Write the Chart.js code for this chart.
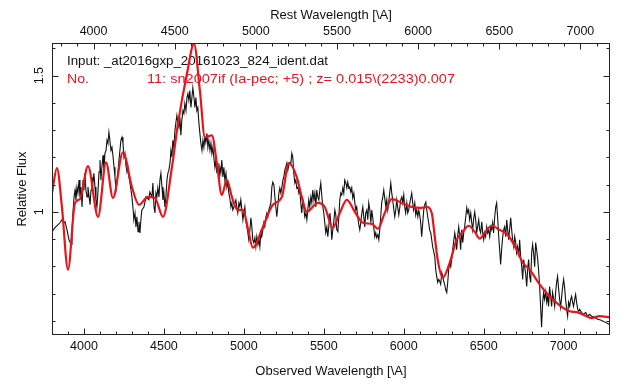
<!DOCTYPE html>
<html>
<head>
<meta charset="UTF-8">
<title>sn2007if vs at2016gxp</title>
<script src="https://cdn.jsdelivr.net/npm/chart.js"></script>
<style>
  html, body { margin: 0; padding: 0; background: #fff; }
  canvas { display: block; }
</style>
</head>
<body>
<canvas id="grafico" width="640" height="387"></canvas>
<script>
// espectro observado (comprimento de onda observado, fluxo relativo)
const obsWave = [
  3800,3819,3838,3850,3862,3875,3881,3894,3906,3919,
  3925,3931,3938,3944,3950,3956,3962,3969,3975,3981,
  3988,3994,4000,4006,4012,4019,4025,4038,4044,4050,
  4056,4062,4069,4075,4081,4088,4094,4100,4106,4112,
  4119,4125,4131,4138,4144,4150,4156,4162,4169,4175,
  4181,4188,4194,4200,4206,4212,4219,4225,4231,4238,
  4244,4250,4256,4262,4269,4275,4281,4288,4294,4300,
  4306,4312,4319,4325,4331,4338,4344,4350,4356,4362,
  4375,4388,4394,4406,4412,4425,4431,4438,4444,4450,
  4456,4462,4469,4475,4481,4488,4494,4500,4506,4512,
  4519,4525,4531,4538,4544,4550,4556,4562,4569,4575,
  4581,4588,4594,4600,4606,4612,4619,4625,4631,4638,
  4644,4650,4656,4662,4669,4675,4681,4688,4694,4700,
  4706,4712,4719,4725,4731,4738,4744,4750,4756,4762,
  4769,4775,4781,4788,4794,4800,4806,4812,4819,4825,
  4831,4838,4844,4850,4856,4862,4869,4875,4881,4888,
  4894,4900,4906,4912,4919,4925,4931,4938,4944,4950,
  4956,4962,4969,4975,4981,4988,4994,5000,5006,5012,
  5019,5025,5031,5038,5044,5050,5056,5062,5069,5075,
  5081,5088,5094,5100,5106,5112,5119,5125,5131,5138,
  5144,5150,5156,5162,5169,5175,5181,5188,5194,5200,
  5206,5212,5219,5225,5231,5238,5244,5250,5256,5262,
  5269,5275,5281,5288,5294,5300,5306,5312,5319,5325,
  5331,5338,5344,5350,5356,5362,5369,5375,5381,5388,
  5394,5400,5406,5412,5419,5425,5431,5438,5444,5450,
  5456,5462,5469,5475,5481,5488,5494,5500,5506,5512,
  5519,5525,5531,5538,5544,5550,5556,5562,5569,5575,
  5581,5588,5594,5600,5606,5612,5619,5625,5631,5638,
  5644,5650,5656,5662,5669,5675,5681,5688,5694,5700,
  5706,5712,5719,5725,5731,5738,5744,5750,5756,5762,
  5769,5775,5781,5788,5794,5800,5806,5812,5819,5825,
  5831,5838,5844,5850,5856,5862,5869,5875,5881,5888,
  5894,5900,5906,5912,5919,5925,5931,5938,5944,5950,
  5956,5962,5969,5975,5981,5988,5994,6000,6006,6012,
  6019,6025,6031,6038,6044,6050,6056,6062,6069,6075,
  6081,6088,6094,6100,6106,6112,6119,6125,6131,6138,
  6144,6150,6156,6162,6169,6181,6194,6200,6206,6212,
  6219,6225,6231,6238,6244,6250,6256,6262,6269,6275,
  6281,6288,6294,6300,6306,6312,6319,6325,6331,6338,
  6344,6350,6356,6362,6369,6375,6381,6388,6394,6400,
  6406,6412,6419,6425,6431,6438,6444,6450,6456,6462,
  6469,6475,6481,6488,6494,6500,6506,6512,6519,6525,
  6531,6538,6544,6550,6556,6562,6569,6575,6581,6588,
  6594,6600,6606,6612,6619,6625,6631,6638,6644,6650,
  6656,6662,6669,6675,6681,6688,6694,6700,6706,6712,
  6719,6725,6731,6738,6744,6750,6756,6762,6769,6775,
  6781,6788,6794,6800,6806,6812,6819,6825,6831,6838,
  6844,6850,6856,6862,6869,6875,6881,6888,6894,6900,
  6906,6912,6919,6925,6931,6938,6944,6950,6956,6962,
  6969,6975,6981,6988,6994,7000,7006,7012,7019,7025,
  7031,7038,7044,7050,7056,7062,7069,7075,7081,7088,
  7094,7100,7112,7125,7138,7150,7162,7175,7194,7212,
  7231,7250,7269,7288
];
const obsFlux = [
  0.927,0.942,0.953,0.960,0.971,0.960,0.964,0.934,0.898,0.880,
  0.923,0.996,1.055,1.080,1.044,1.091,1.069,1.117,1.055,1.091,
  1.018,1.117,1.080,1.142,1.080,1.055,1.091,1.026,1.080,1.128,
  1.106,1.142,1.091,1.044,1.018,1.080,1.146,1.190,1.117,1.164,
  1.208,1.153,1.215,1.226,1.263,1.252,1.292,1.263,1.226,1.237,
  1.208,1.164,1.128,1.080,1.106,1.142,1.190,1.226,1.263,1.274,
  1.252,1.201,1.215,1.172,1.146,1.164,1.128,1.106,1.080,1.055,
  1.018,0.971,0.996,0.945,0.982,0.927,0.964,0.923,0.971,1.007,
  1.018,1.055,1.055,1.044,1.073,1.055,1.106,1.018,0.996,1.069,
  1.055,1.088,1.055,1.117,1.142,1.091,1.044,1.069,1.018,1.051,
  1.117,1.142,1.153,1.179,1.226,1.201,1.263,1.237,1.299,1.328,
  1.354,1.325,1.310,1.347,1.281,1.336,1.372,1.361,1.398,1.372,
  1.420,1.434,1.409,1.445,1.383,1.420,1.456,1.420,1.383,1.420,
  1.372,1.383,1.325,1.288,1.252,1.226,1.263,1.237,1.274,1.255,
  1.288,1.237,1.263,1.226,1.252,1.215,1.237,1.201,1.164,1.190,
  1.142,1.179,1.117,1.164,1.142,1.190,1.128,1.164,1.117,1.142,
  1.091,1.109,1.069,1.051,1.018,1.033,1.007,1.018,1.033,1.044,
  1.018,0.996,1.033,1.020,1.044,1.007,0.971,0.996,1.018,0.971,
  0.945,0.923,0.898,0.934,0.978,0.945,0.898,0.887,0.905,0.872,
  0.909,0.880,0.898,0.872,0.923,0.909,0.934,0.960,0.945,0.982,
  0.996,0.982,1.007,1.018,1.033,1.091,1.109,1.099,1.055,1.018,
  0.982,1.018,1.069,1.088,1.069,1.091,1.117,1.128,1.153,1.164,
  1.179,1.153,1.172,1.182,1.179,1.215,1.201,1.142,1.106,1.117,
  1.088,1.091,1.069,1.080,1.033,0.996,1.044,1.018,0.982,0.996,
  0.971,1.007,1.044,1.018,1.055,1.033,1.080,1.044,1.069,1.018,
  1.080,1.055,1.044,1.080,1.106,1.055,1.018,0.996,0.960,0.923,
  0.945,0.909,0.945,0.996,0.960,0.898,0.934,0.960,1.007,0.989,
  0.934,0.927,0.982,1.044,1.069,1.062,1.088,1.069,1.117,1.106,
  1.088,1.109,1.088,1.091,1.073,1.088,1.051,1.069,1.033,1.007,
  1.018,0.982,0.953,0.934,0.960,0.996,1.018,0.982,0.945,0.996,
  1.007,0.971,1.033,1.007,0.960,1.007,0.978,0.945,0.909,0.923,
  0.905,0.916,0.898,0.934,0.982,1.033,1.055,1.080,1.051,1.018,
  1.044,1.007,1.033,1.069,1.106,1.069,1.044,1.007,0.982,1.007,
  1.044,1.018,0.989,1.015,1.044,1.055,1.033,1.062,1.018,0.996,
  1.033,0.996,1.007,1.033,1.051,1.069,1.033,1.007,1.033,0.989,
  1.007,0.982,1.007,0.989,0.960,0.909,0.960,1.007,1.026,1.036,
  1.007,0.982,0.960,0.934,0.923,0.872,0.836,0.788,0.763,0.741,
  0.752,0.745,0.734,0.777,0.763,0.745,0.734,0.715,0.704,0.741,
  0.788,0.814,0.799,0.825,0.861,0.891,0.923,0.898,0.861,0.916,
  0.945,0.909,0.861,0.934,0.887,0.923,0.945,0.982,1.015,0.996,
  1.007,0.971,0.996,0.960,0.934,0.978,1.000,0.971,0.923,0.945,
  0.971,0.934,0.923,0.964,0.923,0.898,0.923,0.909,0.945,0.923,
  0.934,0.909,0.945,0.934,0.960,0.923,0.982,1.018,1.033,0.971,
  0.909,0.861,0.807,0.861,0.909,0.934,0.945,0.909,0.971,0.934,
  0.898,0.934,0.978,0.934,0.898,0.872,0.909,0.887,0.850,0.872,
  0.836,0.898,0.836,0.799,0.752,0.825,0.799,0.777,0.726,0.788,
  0.825,0.763,0.741,0.850,0.880,0.850,0.799,0.887,0.861,0.825,
  0.781,0.726,0.653,0.577,0.668,0.704,0.679,0.708,0.668,0.690,
  0.653,0.726,0.690,0.653,0.704,0.679,0.653,0.704,0.741,0.763,
  0.715,0.679,0.650,0.690,0.726,0.752,0.723,0.679,0.642,0.617,
  0.668,0.653,0.679,0.690,0.668,0.653,0.679,0.697,0.668,0.642,
  0.635,0.642,0.631,0.624,0.631,0.617,0.624,0.617,0.613,0.606,
  0.603,0.598,0.592,0.587
];

// modelo sn2007if (Ia-pec; +5)
const tplWave = [
  3800,3831,3862,3900,3944,3975,4025,4088,4138,4181,
  4244,4300,4344,4400,4444,4494,4550,4588,4644,4688,
  4725,4756,4800,4831,4862,4894,4925,4962,4994,5025,
  5056,5119,5181,5238,5281,5331,5362,5394,5462,5506,
  5556,5600,5644,5694,5744,5800,5838,5881,5925,5988,
  6050,6112,6144,6175,6194,6212,6244,6288,6331,6369,
  6406,6444,6475,6506,6550,6600,6650,6706,6744,6788,
  6850,6912,6975,7038,7088,7144,7175,7225,7288
];
const tplFlux = [
  1.069,1.161,1.018,0.788,1.033,1.047,1.168,0.982,1.182,1.051,
  1.219,1.091,1.026,1.055,1.051,0.982,1.164,1.325,1.507,1.617,
  1.445,1.274,1.281,1.179,1.062,1.117,1.055,1.007,1.007,0.940,
  0.869,0.945,1.026,1.055,1.179,1.128,1.055,1.000,1.033,1.018,
  0.942,0.996,1.044,1.000,0.960,0.956,0.938,0.996,1.047,1.033,
  1.018,1.015,1.018,0.996,0.909,0.825,0.759,0.814,0.898,0.927,
  0.949,0.927,0.902,0.923,0.949,0.934,0.916,0.861,0.814,0.788,
  0.734,0.690,0.657,0.635,0.631,0.617,0.610,0.617,0.613
];

const obsTicks = [4000, 4500, 5000, 5500, 6000, 6500, 7000];
const restTicks = [4000, 4500, 5000, 5500, 6000, 6500, 7000];
const fluxTicks = [1, 1.5];
const fluxLabels = ['1', '1.5'];
const redshift = 0.015;
const xMin = 3800, xMax = 7290;
const yMin = 0.548, yMax = 1.62;

const fonte = '"Liberation Sans", Arial, sans-serif';
const vermelho = '#e8141c';

function pares(ws, fs) {
    const n = Math.min(ws.length, fs.length);
    const out = [];
    for (let i = 0; i < n; i++) out.push({ x: ws[i], y: fs[i] });
    return out;
}

// o texto do IDL é mais largo que a Liberation: estica na horizontal
function textoLargo(ctx, txt, x, y, largura) {
    const w = ctx.measureText(txt).width;
    ctx.save();
    ctx.translate(x, y);
    ctx.scale(largura / w, 1);
    ctx.fillText(txt, 0, 0);
    ctx.restore();
}

// moldura, ticks para dentro e textos estilo IDL
const eixos = {
    id: 'eixos',
    beforeDatasetsDraw(chart) {
        const ctx = chart.ctx;
        ctx.save();
        ctx.font = '12px ' + fonte;
        ctx.textBaseline = 'middle';
        ctx.textAlign = 'left';
        ctx.fillStyle = '#111';
        textoLargo(ctx, 'Input: _at2016gxp_20161023_824_ident.dat', 67, 62, 261);
        ctx.fillStyle = vermelho;
        textoLargo(ctx, 'No.', 67, 80, 22);
        textoLargo(ctx, '11: sn2007if (Ia-pec; +5) ; z= 0.015\\(2233)0.007', 147, 80, 308);
        ctx.restore();
    },
    afterDraw(chart) {
        const ctx = chart.ctx;
        const a = chart.chartArea;
        const x = chart.scales.x, xt = chart.scales.xTop, y = chart.scales.y;
        const L = Math.round(a.left) + 0.5, R = Math.round(a.right) - 0.5;
        const T = Math.round(a.top) + 0.5, B = Math.round(a.bottom) - 0.5;

        ctx.save();
        ctx.strokeStyle = '#222';
        ctx.lineWidth = 1;
        ctx.strokeRect(L, T, R - L, B - T);

        ctx.beginPath();
        for (let v = 3800; v <= xMax; v += 100) {
            const px = Math.round(x.getPixelForValue(v)) + 0.5;
            const len = v % 500 === 0 ? 6 : 3;
            ctx.moveTo(px, B); ctx.lineTo(px, B - len);
        }
        for (let v = 3800; v <= xMax / (1 + redshift); v += 100) {
            const px = Math.round(xt.getPixelForValue(v)) + 0.5;
            const len = v % 500 === 0 ? 6 : 3;
            ctx.moveTo(px, T); ctx.lineTo(px, T + len);
        }
        for (let k = 6; k <= 16; k++) {
            const py = Math.round(y.getPixelForValue(k / 10)) + 0.5;
            const len = (k === 10 || k === 15) ? 6 : 3;
            ctx.moveTo(L, py); ctx.lineTo(L + len, py);
            ctx.moveTo(R, py); ctx.lineTo(R - len, py);
        }
        ctx.stroke();

        ctx.fillStyle = '#111';
        ctx.font = '12.5px ' + fonte;
        ctx.textAlign = 'center';
        ctx.textBaseline = 'middle';
        obsTicks.forEach(v => ctx.fillText(String(v), x.getPixelForValue(v), 347));
        restTicks.forEach(v => ctx.fillText(String(v), xt.getPixelForValue(v), 32));
        fluxTicks.forEach((v, i) => {
            ctx.save();
            ctx.translate(40, y.getPixelForValue(v));
            ctx.rotate(-Math.PI / 2);
            ctx.fillText(fluxLabels[i], 0, 0);
            ctx.restore();
        });

        const cx = (a.left + a.right) / 2;
        ctx.font = '13px ' + fonte;
        ctx.fillText('Rest Wavelength [\\A]', cx, 15);
        ctx.fillText('Observed Wavelength [\\A]', cx, 371);
        ctx.save();
        ctx.translate(22, (a.top + a.bottom) / 2);
        ctx.rotate(-Math.PI / 2);
        ctx.fillText('Relative Flux', 0, 0);
        ctx.restore();
        ctx.restore();
    }
};

new Chart(document.getElementById('grafico'), {
    type: 'line',
    data: {
        datasets: [
            {
                label: 'sn2007if',
                data: pares(tplWave, tplFlux),
                borderColor: vermelho,
                borderWidth: 2.2,
                pointRadius: 0,
                cubicInterpolationMode: 'monotone',
                fill: false
            },
            {
                label: 'at2016gxp',
                data: pares(obsWave, obsFlux),
                borderColor: '#111',
                borderWidth: 1.1,
                pointRadius: 0,
                tension: 0,
                fill: false
            }
        ]
    },
    options: {
        responsive: false,
        animation: false,
        events: [],
        layout: { padding: { left: 52, right: 30, top: 43, bottom: 52 } },
        plugins: { legend: { display: false }, tooltip: { enabled: false } },
        scales: {
            x: { type: 'linear', min: xMin, max: xMax, display: false },
            xTop: { type: 'linear', position: 'top', min: xMin / (1 + redshift), max: xMax / (1 + redshift), display: false },
            y: { type: 'linear', min: yMin, max: yMax, display: false }
        }
    },
    plugins: [eixos]
});
</script>
</body>
</html>
